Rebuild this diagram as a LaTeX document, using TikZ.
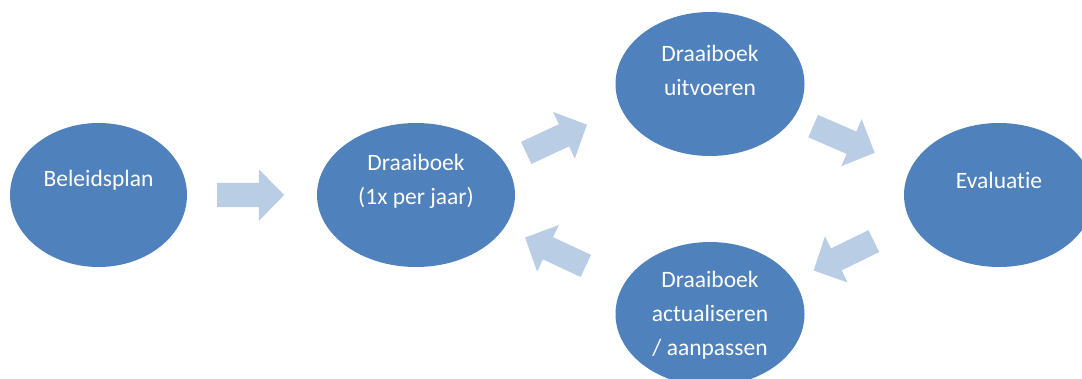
\documentclass[tikz,border=0pt]{standalone}
\usepackage{fontspec}
\setmainfont{Carlito}[Ligatures=NoCommon]
\usetikzlibrary{shapes.geometric, shapes.arrows}
\definecolor{phaseblue}{HTML}{4F81BD}
\definecolor{arrowblue}{HTML}{B9CDE5}
\tikzset{>=stealth}

\begin{document}
\begin{tikzpicture}[x=1pt, y=-1pt,
  phase/.style={ellipse, fill=phaseblue, inner sep=0pt, minimum height=144pt},
  lbl/.style={text=white, align=center, font=\fontsize{23.5}{34}\selectfont},
  blockarrow/.style={single arrow, fill=arrowblue, minimum height=67pt, inner xsep=0pt,
    inner ysep=12pt, single arrow head extend=13.5pt, single arrow tip angle=91, anchor=tail}]
\useasboundingbox (0,0) rectangle (1082,378);
% fasen
\node[phase, minimum width=177pt, label={[lbl, yshift=15pt]center:{Beleidsplan}}] (plan) at (98.5,195) {};
\node[phase, minimum width=198pt, label={[lbl, yshift=14pt]center:{Draaiboek\\(1x per jaar)}}] (boek) at (416,195) {};
\node[phase, minimum width=189pt, label={[lbl, yshift=13.5pt]center:{Draaiboek\\uitvoeren}}] (uitv) at (710,84) {};
\node[phase, minimum width=190pt, label={[lbl, yshift=15pt]center:{Evaluatie}}] (eval) at (999,195) {};
\node[phase, minimum width=189pt, label={[lbl, yshift=-1pt]center:{Draaiboek\\actualiseren\\/ aanpassen}}] (actu) at (710,314) {};
% pijlen
\node[blockarrow] (p1) at (217,195) {};
\node[blockarrow, rotate=25] (p2) at (526,153) {};
\node[blockarrow, rotate=-23.5] (p3) at (813,126) {};
\node[blockarrow, rotate=206] (p4) at (874,241) {};
\node[blockarrow, rotate=155] (p5) at (586,266) {};
\end{tikzpicture}
\end{document}
